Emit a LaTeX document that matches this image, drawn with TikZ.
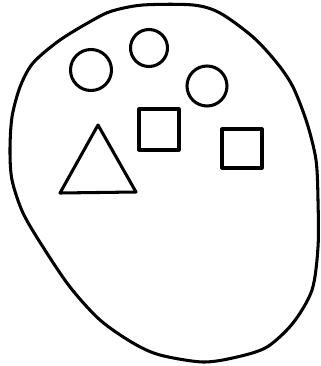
\documentclass[tikz,border=0pt]{standalone}
\begin{document}
\begin{tikzpicture}[x=0.03cm,y=-0.03cm,line width=2.6pt,line join=round]
  % Cadre de la page (pixels de l'image)
  \useasboundingbox (0,0) rectangle (321,366);

  % Ensemble : contour ferme trace a main levee
  \draw plot[smooth cycle,tension=0.5] coordinates {
    (143,5) (193,5) (220,13) (253,37) (277,63) (293,87) (307,123)
    (316,160) (318,200) (318,247) (312,290) (293,323) (267,347)
    (237,357) (203,362) (160,355) (133,343) (100,320) (70,287)
    (43,247) (23,213) (12,180) (10,150) (12,117) (20,87) (33,63)
    (60,40) (93,20) (112,11)};

  % Cercles
  \draw (91,70) circle (20.5);
  \draw (149,48) circle (18.5);
  \draw (207,86) circle (20);

  % Carres
  \draw (139,109) rectangle (179,150);
  \draw (222,129) rectangle (262,168);

  % Triangle
  \draw (98,125) -- (136,192) -- (60,193) -- cycle;
\end{tikzpicture}
\end{document}
